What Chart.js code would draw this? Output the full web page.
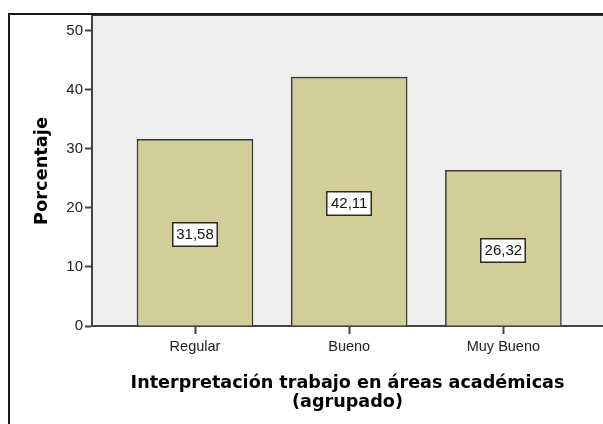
<!DOCTYPE html>
<html lang="es">
<head>
<meta charset="UTF-8">
<title>Porcentaje</title>
<style>
    html, body {
        margin: 0;
        padding: 0;
        background: #ffffff;
        overflow: hidden;
    }
    #marco {
        position: absolute;
        left: 8px;
        top: 13px;
        width: 700px;
        height: 500px;
        border-left: 2px solid #1a1a1a;
        border-top: 2px solid #1a1a1a;
    }
    #grafico {
        position: absolute;
        left: 0;
        top: 0;
    }
</style>
<script src="https://cdn.jsdelivr.net/npm/chart.js"></script>
</head>
<body>
<div id="marco"></div>
<canvas id="grafico" width="603" height="424"></canvas>

<script>
    const categorias = ["Regular", "Bueno", "Muy Bueno"];
    const porcentajes = [31.58, 42.11, 26.32];
    const ticksY = [0, 10, 20, 30, 40, 50];

    // fondo gris del área de trazado
    const fondoPlot = {
        id: "fondoPlot",
        beforeDraw(chart) {
            const { ctx, chartArea } = chart;
            ctx.save();
            ctx.fillStyle = "#efefef";
            ctx.fillRect(chartArea.left, chartArea.top, chartArea.right - chartArea.left, chartArea.bottom - chartArea.top);
            ctx.strokeStyle = "#333";
            ctx.lineWidth = 1;
            ctx.beginPath();
            ctx.moveTo(chartArea.left, chartArea.top - 0.5);
            ctx.lineTo(chartArea.right, chartArea.top - 0.5);
            ctx.stroke();
            ctx.restore();
        }
    };

    // etiquetas con el valor dentro de cada barra
    const etiquetas = {
        id: "etiquetas",
        afterDatasetsDraw(chart) {
            const ctx = chart.ctx;
            const meta = chart.getDatasetMeta(0);
            ctx.save();
            ctx.font = "15px 'Liberation Sans', Arial, sans-serif";
            ctx.textAlign = "center";
            ctx.textBaseline = "middle";
            meta.data.forEach((bar, i) => {
                const texto = porcentajes[i].toFixed(2).replace(".", ",");
                const cy = Math.round((bar.y + bar.base) / 2) + 2;
                const w = 46, h = 25;
                const x0 = Math.round(bar.x - w / 2);
                const y0 = Math.round(cy - h / 2);
                ctx.fillStyle = "#ffffff";
                ctx.fillRect(x0, y0, w, h);
                ctx.strokeStyle = "#2a2a2a";
                ctx.lineWidth = 1.5;
                ctx.strokeRect(x0 + 0.75, y0 + 0.75, w - 1.5, h - 1.5);
                ctx.fillStyle = "#111";
                ctx.fillText(texto, bar.x, cy + 1);
            });
            ctx.restore();
        }
    };

    new Chart(document.getElementById("grafico"), {
        type: "bar",
        data: {
            datasets: [{
                data: porcentajes.map((v, i) => ({ x: i, y: v })),
                backgroundColor: "#d3ce98",
                borderColor: "#3a3a3a",
                borderWidth: 1.5,
                barThickness: 116
            }]
        },
        plugins: [fondoPlot, etiquetas],
        options: {
            responsive: false,
            animation: false,
            layout: { padding: { top: 16, left: 0, right: 0, bottom: 0 } },
            plugins: {
                legend: { display: false },
                tooltip: { enabled: false }
            },
            scales: {
                x: {
                    type: "linear",
                    offset: false,
                    min: -0.668,
                    max: 2.646,
                    afterBuildTicks: (scale) => { scale.ticks = categorias.map((c, i) => ({ value: i })); },
                    afterFit: (scale) => { scale.height = 98; },
                    grid: { offset: false, drawOnChartArea: false, tickLength: 8, tickWidth: 2, tickColor: "#444" },
                    border: { color: "#444", width: 2 },
                    ticks: {
                        callback: (v) => categorias[v],
                        padding: 4,
                        color: "#222",
                        font: { family: "'Liberation Sans', Arial, sans-serif", size: 14.5 }
                    },
                    title: {
                        display: true,
                        text: ["Interpretación trabajo en áreas académicas", "(agrupado)"],
                        color: "#000",
                        font: { family: "'DejaVu Sans', sans-serif", size: 17.6, weight: "bold", lineHeight: 1.1 },
                        padding: { top: 0, bottom: 12 }
                    }
                },
                y: {
                    min: 0,
                    max: 52.45,
                    afterBuildTicks: (scale) => { scale.ticks = ticksY.map(v => ({ value: v })); },
                    afterFit: (scale) => { scale.width = 92; },
                    grid: { drawOnChartArea: false, tickLength: 7, tickWidth: 2, tickColor: "#444" },
                    border: { color: "#444", width: 2 },
                    ticks: {
                        padding: 2,
                        color: "#222",
                        font: { family: "'Liberation Sans', Arial, sans-serif", size: 15 }
                    },
                    title: {
                        display: true,
                        text: "Porcentaje",
                        color: "#000",
                        font: { family: "'DejaVu Sans', sans-serif", size: 17.8, weight: "bold", lineHeight: 1.1 },
                        padding: { top: 33, bottom: 0 }
                    }
                }
            }
        }
    });
</script>
</body>
</html>
